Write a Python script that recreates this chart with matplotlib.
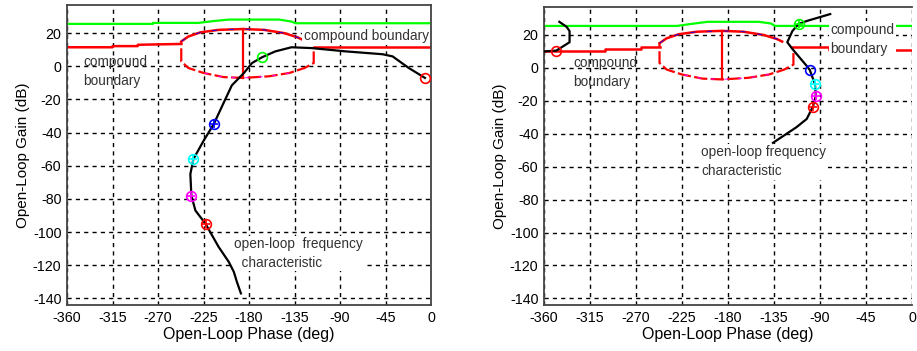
import matplotlib
matplotlib.use("Agg")
import matplotlib.pyplot as plt
from matplotlib.patches import Rectangle

plt.rcParams['font.family'] = ['Liberation Sans', 'DejaVu Sans']
plt.rcParams['axes.unicode_minus'] = False

# dane - wspolne granice
green_x = [-360, -275, -275, -230, -215, -200, -150, -138, -134, 0]
green_y = [25.6, 25.6, 26.2, 26.2, 27.3, 28.2, 28.2, 27.0, 26.0, 26.0]
red_left_x = [-360, -315, -315, -290, -290, -247]
red_left_y = [11.5, 11.5, 12.2, 12.2, 13.0, 13.5]

ell_top_x = [-247, -240, -228, -210, -186, -165, -145, -132, -127]
ell_top_y = [15, 18, 20.5, 22, 22.5, 22, 20, 17.5, 16]
ell_bot_x = [-116, -116, -125, -140, -160, -186, -205, -225, -240, -247, -247]
ell_bot_y = [9, 2, -1, -4, -6, -7, -6.5, -4, -1, 3, 15]
vline_x = -186
vline_y = [22.5, -7]

# lewy wykres - charakterystyka
left_x = [-188, -192, -195, -200, -210, -223, -233, -237, -238, -235, -225, -215,
          -197, -185, -177, -167, -154, -138, -118, -84, -48, -38, -22, -6]
left_y = [-137, -130, -124, -118, -109, -95, -87, -78, -65, -56, -45, -35,
          -11.5, -4, 2, 5.5, 9, 11.5, 11, 9, 7.3, 6, -1, -7]
left_red_right_x = [-116, 0]
left_red_right_y = [11.5, 11.5]
left_marks = [(-167, 5.5, 'lime', False), (-215, -35, 'blue', True), (-235, -56, 'cyan', True),
              (-237, -78, 'magenta', True), (-223, -95, 'red', True), (-6, -7, 'red', False)]

# prawy wykres
right_a_x = [-345, -338, -335, -335, -348, -360]
right_a_y = [28, 25, 22.4, 15.6, 10.5, 10]
right_b_x = [-80, -103, -111, -117, -122, -117, -103, -100, -95, -94, -97, -103, -113, -136]
right_b_y = [32.7, 28.5, 26.7, 22.4, 15.6, 11.5, 1.2, -1.2, -9.7, -17, -23.6, -31, -36, -45.5]
right_red_left_x = [-360, -300, -300, -265, -265, -247]
right_red_left_y = [10.5, 10.5, 11.5, 11.5, 13, 13]
right_red_right_x = [-117, -81, -81, 0]
right_red_right_y = [13, 13, 11, 11]
right_green_x = [-360, -230, -215, -200, -150, -138, -134, -81, -81, 0]
right_green_y = [25.5, 25.5, 26.8, 28, 28, 27, 25.5, 25.5, 25.5, 25.5]
right_marks = [(-348, 10.5, 'red', False), (-111, 26.7, 'lime', True), (-100, -1.2, 'blue', False),
               (-95, -9.7, 'cyan', True), (-94, -17, 'magenta', True), (-97, -23.6, 'red', True)]

xticks = [-360, -315, -270, -225, -180, -135, -90, -45, 0]
yticks = [20, 0, -20, -40, -60, -80, -100, -120, -140]

fig = plt.figure(figsize=(9.17, 3.51), dpi=100)
ax1 = fig.add_axes([67/917, 1-305/351, (431-67)/917, 300/351])
ax2 = fig.add_axes([544/917, 1-305/351, (912-544)/917, 298/351])

def boundary(ax):
    ax.plot(ell_top_x, ell_top_y, color='red', lw=1.8, zorder=3)
    ax.plot(ell_top_x, ell_top_y, color='blue', lw=0.6, ls=(0, (6, 14)), zorder=3)
    ax.plot(ell_bot_x, ell_bot_y, color='red', lw=1.6, ls=(0, (6, 1.5)), zorder=3)
    ax.plot(ell_bot_x[3:8], ell_bot_y[3:8], color='magenta', lw=0.7, ls=(0, (4, 10)), zorder=3)
    ax.plot([vline_x, vline_x], vline_y, color='red', lw=1.6, zorder=3)

def marks(ax, lst):
    for x, y, c, cross in lst:
        ax.plot(x, y, 'o', mfc='none', mec=c, ms=7, mew=1.2, zorder=5)
        if cross:
            ax.plot(x, y, '+', color=c, ms=6, mew=1.2, zorder=5)

def style(ax):
    ax.set_xlim(-360, 0)
    ax.set_ylim(-144, 37)
    ax.set_xticks(xticks)
    ax.set_yticks(yticks)
    ax.grid(True, color='k', ls=(0, (3, 3)), lw=1.0)
    ax.tick_params(length=0, labelsize=10.3, pad=4)
    for s in ax.spines.values():
        s.set_color('#444444')
        s.set_linewidth(1.3)
    ax.set_xlabel('Open-Loop Phase (deg)', fontsize=11.5, labelpad=2)
    ax.set_ylabel('Open-Loop Gain (dB)', fontsize=11, labelpad=2)

txt = dict(fontsize=9.8, color='#333333', zorder=3.5)

# lewy
ax1.plot(green_x, green_y, color='lime', lw=1.6, zorder=2)
ax1.plot(red_left_x, red_left_y, color='red', lw=1.8, zorder=2)
ax1.plot(left_red_right_x, left_red_right_y, color='red', lw=1.8, zorder=2)
boundary(ax1)
ax1.add_patch(Rectangle((-184, -117), 134, 20, fc='white', ec='none', zorder=1.5))
ax1.plot(left_x, left_y, color='black', lw=1.6, zorder=4)
marks(ax1, left_marks)
ax1.text(-126, 18, 'compound boundary', va='center',
         bbox=dict(fc='white', ec='none', pad=1), **txt)
ax1.text(-344, -3, 'compound\nboundary', va='center', linespacing=1.45, **txt)
ax1.text(-195, -113, 'open-loop  frequency\n  characteristic', va='center', linespacing=1.45,
         bbox=dict(fc='white', ec='none', pad=1), **txt)
style(ax1)

# prawy
ax2.plot(right_green_x, right_green_y, color='lime', lw=1.6, zorder=2)
ax2.plot(right_red_left_x, right_red_left_y, color='red', lw=1.8, zorder=2)
ax2.plot(right_red_right_x, right_red_right_y, color='red', lw=1.8, zorder=2)
boundary(ax2)
ax2.plot(right_a_x, right_a_y, color='black', lw=1.6, zorder=4)
ax2.plot(right_b_x, right_b_y, color='black', lw=1.6, zorder=4)
marks(ax2, right_marks)
ax2.text(-80, 17.5, 'compound\nboundary', va='center', linespacing=1.45,
         bbox=dict(fc='white', ec='none', pad=1), **txt)
ax2.text(-331, -3, 'compound\nboundary', va='center', linespacing=1.45, **txt)
ax2.text(-206, -57, 'open-loop frequency\ncharacteristic', va='center', linespacing=1.45,
         bbox=dict(fc='white', ec='none', pad=1), **txt)
style(ax2)
ax2.spines['right'].set_visible(False)

fig.savefig('out.png', dpi=100)
